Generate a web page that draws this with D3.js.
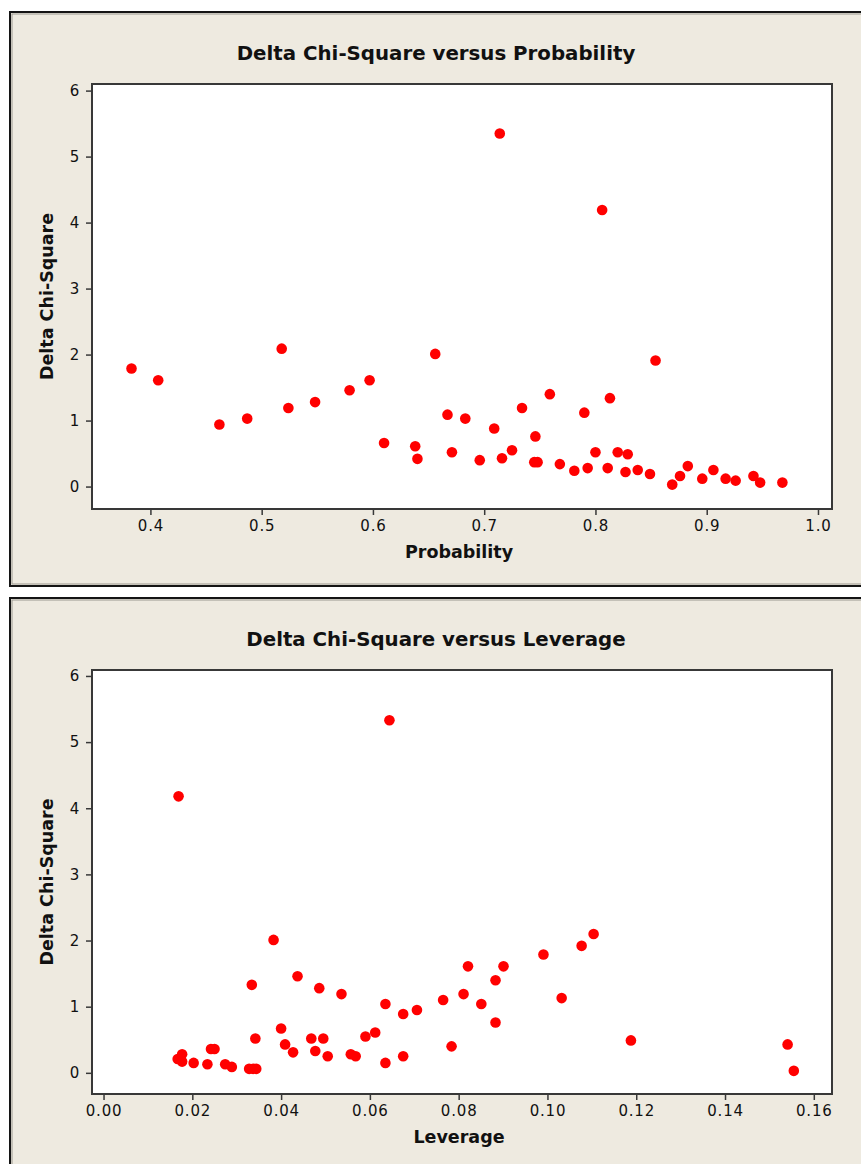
<!DOCTYPE html>
<html><head><meta charset="utf-8">
<script src="https://cdn.jsdelivr.net/npm/d3@7"></script>
<style>
html,body{margin:0;padding:0;background:#fff;}
svg{display:block;}
text{font-family:"DejaVu Sans",Verdana,sans-serif;fill:#111;}
</style></head>
<body>
<script>
// Top chart: Delta Chi-Square versus Probability
const probability = [0.383,0.407,0.462,0.487,0.518,0.524,0.548,0.579,0.597,0.610,0.638,0.640,0.656,0.667,0.671,0.683,0.696,0.709,0.714,0.716,0.725,0.734,0.746,0.745,0.748,0.759,0.768,0.781,0.790,0.793,0.800,0.806,0.811,0.813,0.820,0.827,0.829,0.838,0.849,0.854,0.869,0.876,0.883,0.896,0.906,0.917,0.926,0.942,0.948,0.968];
const deltaChiTop = [1.79,1.61,0.94,1.03,2.09,1.19,1.28,1.46,1.61,0.66,0.61,0.42,2.01,1.09,0.52,1.03,0.40,0.88,5.35,0.43,0.55,1.19,0.76,0.37,0.37,1.40,0.34,0.24,1.12,0.28,0.52,4.19,0.28,1.34,0.52,0.22,0.49,0.25,0.19,1.91,0.03,0.16,0.31,0.12,0.25,0.12,0.09,0.16,0.06,0.06];
const probTicks = [0.4,0.5,0.6,0.7,0.8,0.9,1.0];

// Bottom chart: Delta Chi-Square versus Leverage
const leverage = [0.0167,0.0177,0.0177,0.0169,0.0203,0.0234,0.0242,0.0250,0.0274,0.0289,0.0328,0.0337,0.0344,0.0334,0.0342,0.0383,0.0400,0.0409,0.0427,0.0437,0.0468,0.0477,0.0486,0.0495,0.0505,0.0536,0.0557,0.0568,0.0590,0.0612,0.0635,0.0635,0.0644,0.0675,0.0675,0.0706,0.0765,0.0784,0.0811,0.0821,0.0851,0.0883,0.0883,0.0901,0.0991,0.1032,0.1077,0.1104,0.1188,0.1541,0.1555];
const deltaChiBottom = [0.21,0.28,0.17,4.18,0.15,0.13,0.36,0.36,0.13,0.09,0.06,0.06,0.06,1.33,0.52,2.01,0.67,0.43,0.31,1.46,0.52,0.33,1.28,0.52,0.25,1.19,0.28,0.25,0.55,0.61,1.04,0.15,5.33,0.89,0.25,0.95,1.10,0.40,1.19,1.61,1.04,1.40,0.76,1.61,1.79,1.13,1.92,2.10,0.49,0.43,0.03];
const levTicks = [0.00,0.02,0.04,0.06,0.08,0.10,0.12,0.14,0.16];

const yTicks = [0,1,2,3,4,5,6];

const W = 861, H = 1164;
const svg = d3.select("body").append("svg").attr("width", W).attr("height", H);

function panel(cfg){
  const g = svg.append("g");
  // panel background
  g.append("rect").attr("x", cfg.px).attr("y", cfg.py).attr("width", cfg.pw).attr("height", cfg.ph)
    .attr("fill", "#EEEAE0").attr("stroke", "#141414").attr("stroke-width", 2);
  g.append("rect").attr("x", cfg.px+2).attr("y", cfg.py+2).attr("width", cfg.pw-4).attr("height", cfg.ph-4)
    .attr("fill", "none").attr("stroke", "#9a978f").attr("stroke-width", 1);

  const x = d3.scaleLinear().domain(cfg.xDomain).range([92, 832]);
  const y = d3.scaleLinear().domain(cfg.yDomain).range([cfg.bottom, cfg.top]);

  // plot area
  g.append("rect").attr("x", 92).attr("y", cfg.top).attr("width", 740).attr("height", cfg.bottom - cfg.top)
    .attr("fill", "#fff").attr("stroke", "#383838").attr("stroke-width", 2);

  // axes
  const xa = g.append("g").attr("transform", `translate(0,${cfg.bottom})`)
    .call(d3.axisBottom(x).tickValues(cfg.xTicks).tickFormat(d3.format(cfg.xFmt)).tickSizeOuter(0).tickSize(6).tickPadding(5));
  const ya = g.append("g").attr("transform", `translate(92,0)`)
    .call(d3.axisLeft(y).tickValues(yTicks).tickFormat(d3.format("d")).tickSizeOuter(0).tickSize(6).tickPadding(6));
  [xa, ya].forEach(a => {
    a.select(".domain").remove();
    a.selectAll(".tick line").attr("stroke", "#383838").attr("stroke-width", 1.5);
    a.selectAll(".tick text").attr("fill", "#222").style("font-size", "15px").style("letter-spacing", "0.8px")
      .style("font-family", "'DejaVu Sans',Verdana,sans-serif");
  });

  // points
  g.append("g").selectAll("circle").data(cfg.xs.map((v,i)=>[v, cfg.ys[i]])).join("circle")
    .attr("cx", d => x(d[0])).attr("cy", d => y(d[1])).attr("r", 5.3).attr("fill", "#ff0000");

  // title
  g.append("text").attr("x", 436).attr("y", cfg.titleY).attr("text-anchor", "middle")
    .attr("dominant-baseline", "central").style("font-size", "19.8px").style("font-weight", "bold")
    .text(cfg.title);
  // x label
  g.append("text").attr("x", 459).attr("y", cfg.bottom + 43).attr("text-anchor", "middle")
    .attr("dominant-baseline", "central").style("font-size", "17.5px").style("font-weight", "bold")
    .text(cfg.xLabel);
  // y label
  g.append("text").attr("transform", `translate(47,${(cfg.top+cfg.bottom)/2}) rotate(-90)`)
    .attr("text-anchor", "middle").attr("dominant-baseline", "central")
    .style("font-size", "17.5px").style("font-weight", "bold").text("Delta Chi-Square");
}

panel({px:10, py:12, pw:870, ph:574, top:84, bottom:509,
  xDomain:[0.3475, 1.0126], yDomain:[-0.34, 6.1], xTicks:probTicks, xFmt:".1f",
  xs:probability, ys:deltaChiTop, title:"Delta Chi-Square versus Probability", titleY:53, xLabel:"Probability"});

panel({px:10, py:598, pw:870, ph:600, top:670, bottom:1094,
  xDomain:[-0.0026, 0.1641], yDomain:[-0.32, 6.09], xTicks:levTicks, xFmt:".2f",
  xs:leverage, ys:deltaChiBottom, title:"Delta Chi-Square versus Leverage", titleY:639, xLabel:"Leverage"});
</script>
</body></html>
